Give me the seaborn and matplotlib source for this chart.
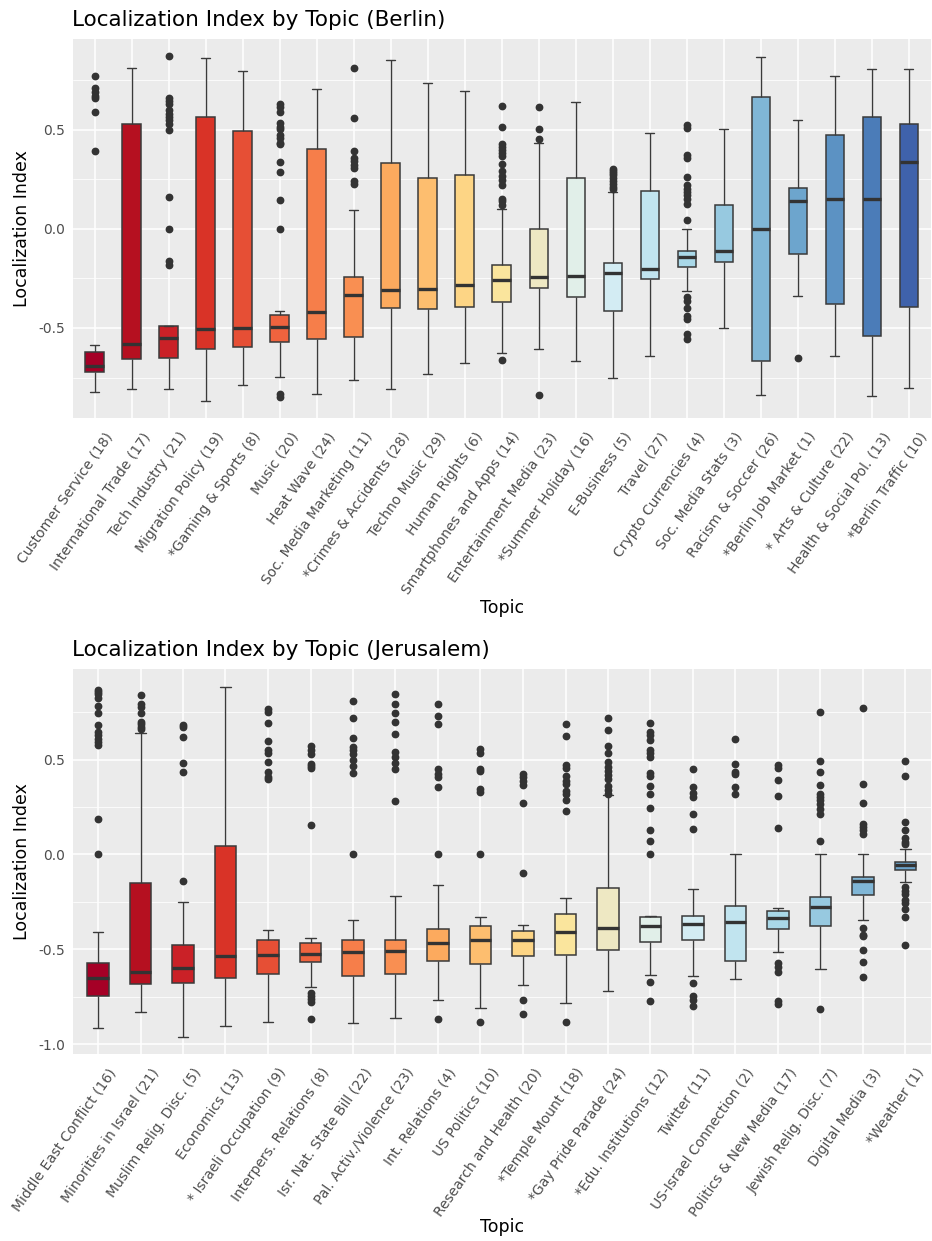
import numpy as np
import pandas as pd
import matplotlib
matplotlib.use("Agg")
import matplotlib.pyplot as plt
import seaborn as sns
from matplotlib.ticker import FixedLocator, FormatStrFormatter
from matplotlib.transforms import ScaledTranslation

# ---------------------------------------------------------------- Berlin
berlin_topics = [
    "Customer Service (18)", "International Trade (17)", "Tech Industry (21)",
    "Migration Policy (19)", "*Gaming & Sports (8)", "Music (20)", "Heat Wave (24)",
    "Soc. Media Marketing (11)", "*Crimes & Accidents (28)", "Techno Music (29)",
    "Human Rights (6)", "Smartphones and Apps (14)", "Entertainment Media (23)",
    "*Summer Holiday (16)", "E-Business (5)", "Travel (27)", "Crypto Currencies (4)",
    "Soc. Media Stats (3)", "Racism & Soccer (26)", "*Berlin Job Market (1)",
    "* Arts & Culture (22)", "Health & Social Pol. (13)", "*Berlin Traffic (10)",
]
berlin_whisker_low = [-0.825, -0.806, -0.810, -0.867, -0.790, -0.747, -0.833, -0.763,
                      -0.806, -0.732, -0.677, -0.625, -0.604, -0.665, -0.751, -0.641,
                      -0.313, -0.502, -0.840, -0.337, -0.640, -0.842, -0.803]
berlin_q1 = [-0.724, -0.658, -0.652, -0.606, -0.598, -0.569, -0.556, -0.544,
             -0.399, -0.402, -0.392, -0.370, -0.296, -0.343, -0.414, -0.254,
             -0.195, -0.168, -0.665, -0.128, -0.377, -0.540, -0.392]
berlin_median = [-0.692, -0.579, -0.552, -0.507, -0.500, -0.495, -0.421, -0.335,
                 -0.311, -0.303, -0.281, -0.258, -0.242, -0.236, -0.222, -0.204,
                 -0.141, -0.114, 0.000, 0.140, 0.148, 0.152, 0.337]
berlin_q3 = [-0.621, 0.527, -0.492, 0.562, 0.495, -0.433, 0.402, -0.241,
             0.332, 0.256, 0.271, -0.182, 0.000, 0.256, -0.172, 0.189,
             -0.114, 0.121, 0.662, 0.205, 0.473, 0.562, 0.529]
berlin_whisker_high = [-0.584, 0.810, -0.492, 0.860, 0.795, -0.414, 0.705, 0.094,
                       0.852, 0.737, 0.695, 0.098, 0.433, 0.641, 0.185, 0.483,
                       0.000, 0.503, 0.864, 0.547, 0.768, 0.805, 0.808]
berlin_outliers = [
    [0.77, 0.71, 0.69, 0.67, 0.66, 0.59, 0.39],
    [],
    [0.87, 0.66, 0.645, 0.63, 0.60, 0.58, 0.565, 0.55, 0.53, 0.50, 0.16, 0.0, -0.16, -0.18],
    [],
    [],
    [0.63, 0.615, 0.59, 0.535, 0.515, 0.505, 0.475, 0.46, 0.435, 0.425, 0.335, 0.285,
     0.145, 0.0, -0.833, -0.848],
    [],
    [0.81, 0.557, 0.392, 0.357, 0.343, 0.323, 0.305, 0.242, 0.227],
    [],
    [],
    [],
    [0.62, 0.515, 0.43, 0.41, 0.395, 0.38, 0.365, 0.327, 0.29, 0.268, 0.246, 0.22,
     0.152, 0.138, 0.118, -0.66],
    [0.613, 0.502, 0.455, -0.837],
    [],
    [0.30, 0.29, 0.28, 0.27, 0.255, 0.24, 0.225, 0.21, 0.20],
    [],
    [0.525, 0.507, 0.374, 0.359, 0.263, 0.22, 0.202, 0.185, 0.168, 0.15, 0.123, 0.044,
     -0.342, -0.364, -0.397, -0.439, -0.456, -0.532, -0.557],
    [],
    [],
    [-0.65],
    [],
    [],
    [],
]

# ------------------------------------------------------------- Jerusalem
jerusalem_topics = [
    "Middle East Conflict (16)", "Minorities in Israel (21)", "Muslim Relig. Disc. (5)",
    "Economics (13)", "* Israeli Occupation (9)", "Interpers. Relations (8)",
    "Isr. Nat. State Bill (22)", "Pal. Activ./Violence (23)", "Int. Relations (4)",
    "US Politics (10)", "Research and Health (20)", "*Temple Mount (18)",
    "*Gay Pride Parade (24)", "*Edu. Institutions (12)", "Twitter (11)",
    "US-Israel Connection (2)", "Politics & New Media (17)", "Jewish Relig. Disc. (7)",
    "Digital Media (3)", "*Weather (1)",
]
jerusalem_whisker_low = [-0.915, -0.832, -0.959, -0.905, -0.882, -0.698, -0.887, -0.861,
                         -0.765, -0.808, -0.686, -0.785, -0.718, -0.633, -0.640, -0.658,
                         -0.515, -0.601, -0.346, -0.145]
jerusalem_q1 = [-0.743, -0.684, -0.675, -0.649, -0.631, -0.568, -0.640, -0.628,
                -0.563, -0.575, -0.536, -0.531, -0.503, -0.460, -0.453, -0.561,
                -0.393, -0.379, -0.215, -0.081]
jerusalem_median = [-0.653, -0.621, -0.596, -0.533, -0.529, -0.522, -0.515, -0.506,
                    -0.467, -0.453, -0.451, -0.409, -0.386, -0.377, -0.367, -0.358,
                    -0.337, -0.279, -0.139, -0.058]
jerusalem_q3 = [-0.571, -0.152, -0.478, 0.046, -0.450, -0.467, -0.453, -0.448,
                -0.395, -0.377, -0.404, -0.314, -0.176, -0.328, -0.326, -0.273,
                -0.300, -0.222, -0.118, -0.037]
jerusalem_whisker_high = [-0.409, 0.642, -0.250, 0.885, -0.399, -0.441, -0.344, -0.219,
                          -0.159, -0.332, -0.369, -0.229, 0.312, -0.325, -0.182, 0.000,
                          -0.282, 0.000, 0.000, 0.027]
jerusalem_outliers = [
    [0.868, 0.855, 0.843, 0.825, 0.783, 0.744, 0.681, 0.646, 0.628, 0.61, 0.593, 0.575,
     0.187, 0.0],
    [0.841, 0.792, 0.778, 0.748, 0.70, 0.688, 0.674, 0.66],
    [0.681, 0.674, 0.617, 0.48, 0.432, -0.141],
    [],
    [0.767, 0.75, 0.695, 0.598, 0.549, 0.534, 0.485, 0.432, 0.409, 0.397],
    [0.57, 0.55, 0.527, 0.478, 0.466, 0.453, 0.153, -0.728, -0.746, -0.764, -0.776, -0.866],
    [0.808, 0.72, 0.614, 0.564, 0.55, 0.529, 0.496, 0.466, 0.429, 0.0],
    [0.843, 0.792, 0.744, 0.70, 0.635, 0.538, 0.511, 0.48, 0.451, 0.282],
    [0.792, 0.732, 0.686, 0.451, 0.425, 0.406, 0.356, 0.0, -0.868],
    [0.557, 0.534, 0.451, 0.439, 0.344, 0.33, 0.0, -0.885],
    [0.425, 0.406, 0.388, 0.367, 0.272, -0.099, -0.769, -0.839],
    [0.688, 0.624, 0.474, 0.453, 0.411, 0.388, 0.37, 0.337, 0.321, 0.287, 0.229, -0.884],
    [0.72, 0.654, 0.57, 0.533, 0.485, 0.462, 0.439, 0.418, 0.397, 0.363, 0.34, 0.321],
    [0.695, 0.647, 0.628, 0.603, 0.55, 0.533, 0.511, 0.43, 0.413, 0.36, 0.321, 0.245,
     0.127, 0.071, 0.0, -0.67, -0.772],
    [0.451, 0.353, 0.325, 0.303, 0.215, 0.136, -0.675, -0.746, -0.769, -0.799],
    [0.61, 0.478, 0.436, 0.423, 0.356, 0.321],
    [0.469, 0.453, 0.392, 0.307, 0.139, -0.57, -0.593, -0.617, -0.772, -0.787],
    [0.75, 0.49, 0.437, 0.365, 0.321, 0.303, 0.286, 0.265, 0.242, 0.212, 0.069, -0.813],
    [0.771, 0.37, 0.272, 0.159, 0.145, 0.127, 0.106, -0.388, -0.423, -0.43, -0.501,
     -0.564, -0.646],
    [0.494, 0.411, 0.169, 0.127, 0.086, 0.065, 0.055, -0.173, -0.19, -0.208, -0.24,
     -0.257, -0.287, -0.328, -0.476],
]

# Fill colours, ordered from the lowest to the highest median
box_colors = [
    "#A50026", "#B51020", "#CA2127", "#D93327", "#E64F35", "#EF633E", "#F67E4A",
    "#F98F52", "#FCAA5E", "#FDBE6F", "#FDD585", "#FAE59D", "#EEE8C3", "#E1EFE9",
    "#D3ECF3", "#C1E4EF", "#A9D8E8", "#97C9E0", "#80B6D6", "#6DA5CD", "#5C92C3",
    "#4B7CB8", "#3F62AB",
]


def box_sample(lo, q1, med, q3, hi, outliers):
    """Values whose quartiles, whisker ends and outliers are the given ones."""
    low_out = [v for v in outliers if v < q1]
    high_out = [v for v in outliers if v > q3]
    k = 4 * (len(outliers) + 3)
    return low_out + [lo] + [q1] * k + [med] * k + [q3] * k + [hi] + high_out


def long_table(topics, lo, q1, med, q3, hi, outliers):
    rows = []
    for args in zip(topics, lo, q1, med, q3, hi, outliers):
        topic, vals = args[0], box_sample(*args[1:])
        rows.extend((topic, v) for v in vals)
    return pd.DataFrame(rows, columns=["Topic", "Localization Index"])


berlin_df = long_table(berlin_topics, berlin_whisker_low, berlin_q1, berlin_median,
                       berlin_q3, berlin_whisker_high, berlin_outliers)
jerusalem_df = long_table(jerusalem_topics, jerusalem_whisker_low, jerusalem_q1,
                          jerusalem_median, jerusalem_q3, jerusalem_whisker_high,
                          jerusalem_outliers)

sns.set_theme(style="darkgrid")
plt.rcParams.update({
    "font.family": ["DejaVu Sans"],
    "axes.facecolor": "#EBEBEB",
    "figure.facecolor": "white",
    "axes.unicode_minus": False,
})

W, H = 932, 1241
fig = plt.figure(figsize=(W / 100, H / 100), dpi=100)

LEFT, RIGHT = 72.5, 931.0
panels = [
    ("Localization Index by Topic (Berlin)", berlin_df, berlin_topics, 39.0, 418.0,
     -0.4776),
    ("Localization Index by Topic (Jerusalem)", jerusalem_df, jerusalem_topics, 669.0,
     1054.0, -0.426),
]

for title, df, topics, top, bottom, xlab_y in panels:
    ax = fig.add_axes([LEFT / W, 1 - bottom / H, (RIGHT - LEFT) / W, (bottom - top) / H])
    n = len(topics)
    palette = dict(zip(topics, box_colors[:n]))
    sns.boxplot(
        data=df, x="Topic", y="Localization Index", hue="Topic",
        order=topics, hue_order=topics, palette=palette, legend=False,
        width=0.5, linewidth=1.1, linecolor="#3A3A3A", saturation=1,
        whiskerprops=dict(color="#3A3A3A", linewidth=1.0),
        capprops=dict(color="#3A3A3A", linewidth=1.0),
        medianprops=dict(color="#333333", linewidth=2.4),
        flierprops=dict(marker="o", markerfacecolor="#333333",
                        markeredgecolor="#333333", markersize=4.6),
        ax=ax,
    )

    vals = df["Localization Index"]
    span = vals.max() - vals.min()
    ax.set_ylim(vals.min() - 0.05 * span, vals.max() + 0.05 * span)
    ax.set_xlim(-0.6, n - 0.4)

    ax.yaxis.set_major_locator(FixedLocator([-1.0, -0.5, 0.0, 0.5]))
    ax.yaxis.set_minor_locator(FixedLocator([-0.75, -0.25, 0.25, 0.75]))
    ax.yaxis.set_major_formatter(FormatStrFormatter("%.1f"))
    ax.grid(which="major", color="white", linewidth=1.1)
    ax.grid(which="minor", axis="y", color="white", linewidth=0.55)
    ax.set_axisbelow(True)
    for spine in ax.spines.values():
        spine.set_visible(False)

    ax.tick_params(axis="both", which="major", length=3.0, width=0.8, color="#333333",
                   labelcolor="#4D4D4D", labelsize=10)
    ax.tick_params(axis="y", which="major", pad=2.2)
    ax.tick_params(axis="x", which="major", pad=5.5)
    ax.tick_params(axis="y", which="minor", length=0)

    ax.set_xticks(range(n))
    ax.set_xticklabels(topics, rotation=55, ha="right", va="top", rotation_mode="anchor")
    shift = ScaledTranslation(10 / 100, 0, fig.dpi_scale_trans)
    for lab in ax.get_xticklabels():
        lab.set_transform(lab.get_transform() + shift)

    ax.set_title(title, loc="left", fontsize=15.5, pad=9.4, color="black")
    ax.set_ylabel("Localization Index", fontsize=12.5, color="black")
    ax.set_xlabel("Topic", fontsize=12.5, color="black")
    ax.yaxis.set_label_coords(-0.048, 0.5)
    ax.xaxis.set_label_coords(0.5, xlab_y)

fig.savefig("out.png", dpi=100)
